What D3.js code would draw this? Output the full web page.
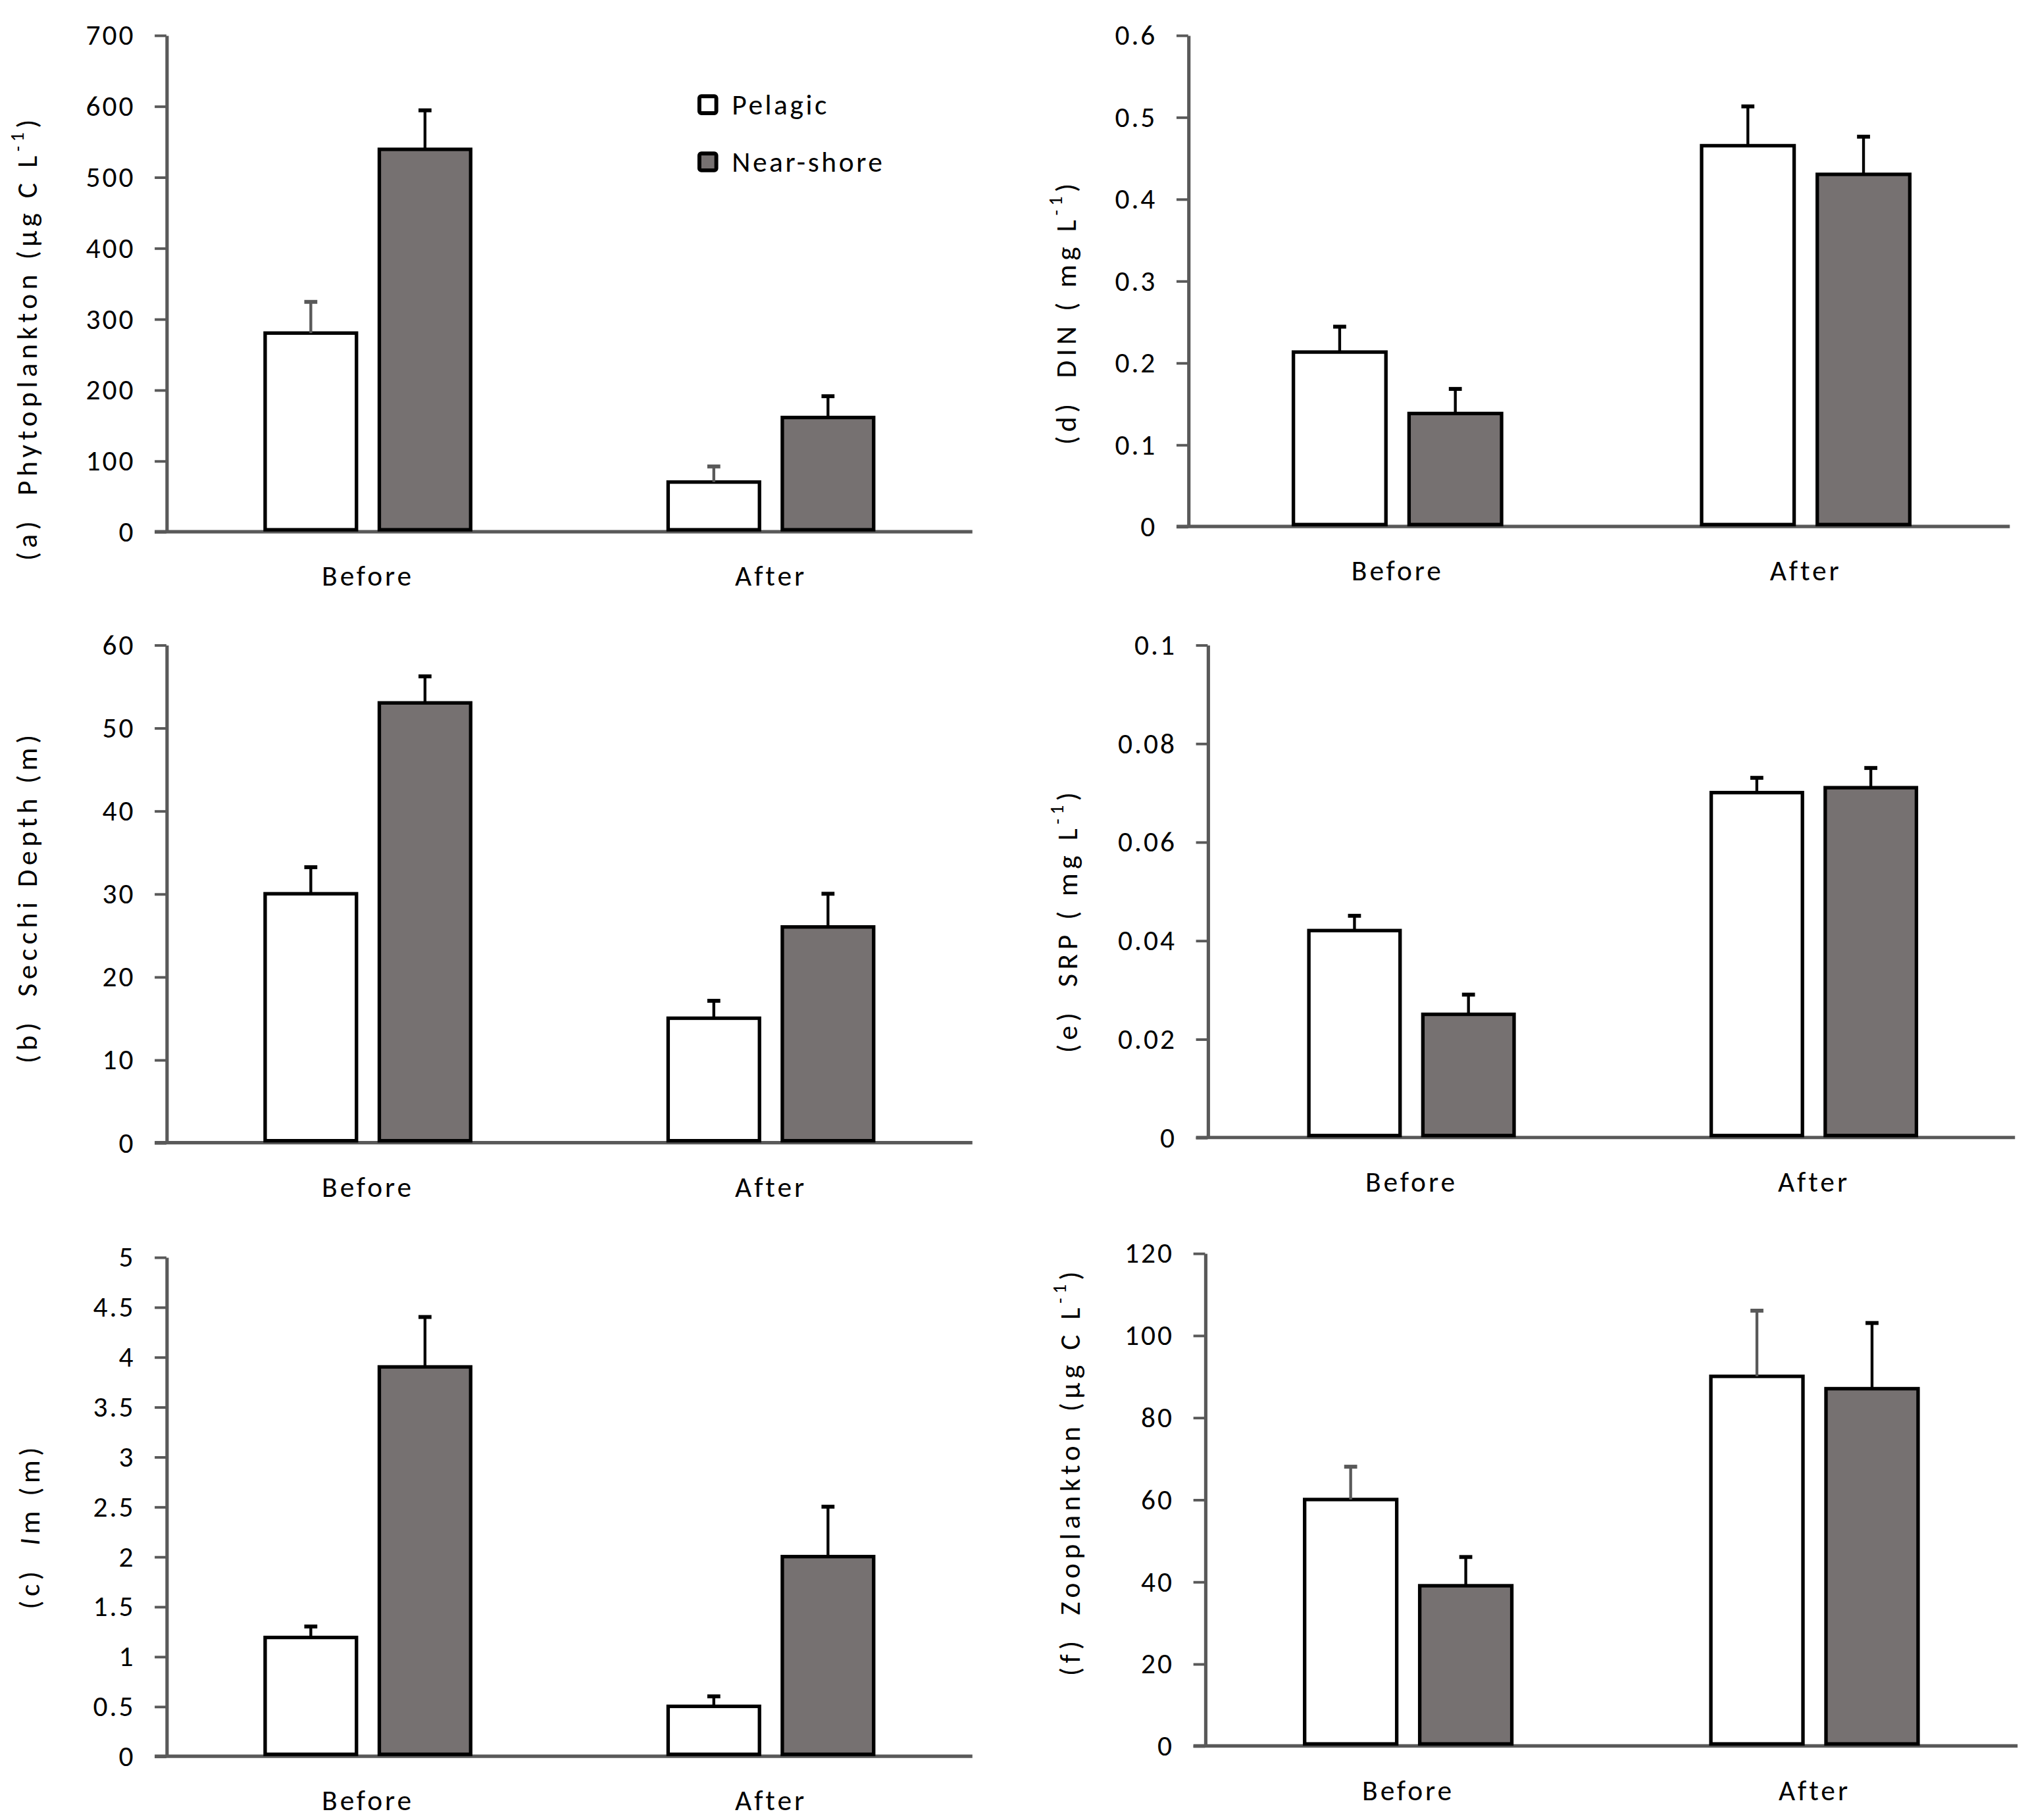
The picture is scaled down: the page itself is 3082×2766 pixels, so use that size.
<!DOCTYPE html>
<html>
<head>
<meta charset="utf-8">
<script src="https://cdn.jsdelivr.net/npm/d3@7"></script>
<style>
  html, body { margin: 0; padding: 0; background: #fff; }
  svg text { font-family: Carlito, Calibri, Lato, "Open Sans", sans-serif; fill: #000; white-space: pre; }
</style>
</head>
<body>
<div id="chart"></div>
<script>
const categories = ["Before", "After"];
const series = ["Pelagic", "Near-shore"];

// (a) Phytoplankton
const phytoPelagic = [280, 70];
const phytoPelagicErr = [44, 22];
const phytoNear = [539, 161];
const phytoNearErr = [55, 30];
const phytoTicks = [0, 100, 200, 300, 400, 500, 600, 700];

// (b) Secchi depth
const secchiPelagic = [30, 15];
const secchiPelagicErr = [3.2, 2.1];
const secchiNear = [53, 26];
const secchiNearErr = [3.2, 4];
const secchiTicks = [0, 10, 20, 30, 40, 50, 60];

// (c) Im
const imPelagic = [1.19, 0.5];
const imPelagicErr = [0.11, 0.1];
const imNear = [3.9, 2.0];
const imNearErr = [0.5, 0.5];
const imTicks = [0, 0.5, 1, 1.5, 2, 2.5, 3, 3.5, 4, 4.5, 5];

// (d) DIN
const dinPelagic = [0.213, 0.465];
const dinPelagicErr = [0.031, 0.048];
const dinNear = [0.138, 0.43];
const dinNearErr = [0.03, 0.046];
const dinTicks = [0, 0.1, 0.2, 0.3, 0.4, 0.5, 0.6];

// (e) SRP
const srpPelagic = [0.042, 0.070];
const srpPelagicErr = [0.003, 0.003];
const srpNear = [0.025, 0.071];
const srpNearErr = [0.004, 0.004];
const srpTicks = [0, 0.02, 0.04, 0.06, 0.08, 0.1];

// (f) Zooplankton
const zooPelagic = [60, 90];
const zooPelagicErr = [8, 16];
const zooNear = [39, 87];
const zooNearErr = [7, 16];
const zooTicks = [0, 20, 40, 60, 80, 100, 120];

const NEAR_FILL = "#767171";
const AXIS_COLOR = "#595959";

const svg = d3.select("#chart")
    .append("svg")
    .attr("width", 3082)
    .attr("height", 2766)
    .attr("viewBox", "0 0 1560 1400");

const panels = [
    { label: "a", title: ["(a)  Phytoplankton (µg C L", "-1", ")"], pel: phytoPelagic, pelErr: phytoPelagicErr, near: phytoNear, nearErr: phytoNearErr, ticks: phytoTicks,
      axisX: 128, yTop: 27, y0: 409, xEnd: 748, bandStart: 128, titleX: 21, titleY: 260, errGray: true, legend: true },
    { label: "b", title: ["(b)  Secchi Depth (m)"], pel: secchiPelagic, pelErr: secchiPelagicErr, near: secchiNear, nearErr: secchiNearErr, ticks: secchiTicks,
      axisX: 128, yTop: 496, y0: 879, xEnd: 748, bandStart: 128, titleX: 21, titleY: 690 },
    { label: "c", title: ["(c)  ", "I", "m (m)"], italic: true, pel: imPelagic, pelErr: imPelagicErr, near: imNear, nearErr: imNearErr, ticks: imTicks,
      axisX: 128, yTop: 967, y0: 1351, xEnd: 748, bandStart: 128, titleX: 23, titleY: 1174 },
    { label: "d", title: ["(d)  DIN ( mg L", "-1", ")"], pel: dinPelagic, pelErr: dinPelagicErr, near: dinNear, nearErr: dinNearErr, ticks: dinTicks,
      axisX: 914, yTop: 27, y0: 405, xEnd: 1546, bandStart: 918, titleX: 820, titleY: 240 },
    { label: "e", title: ["(e)  SRP ( mg L", "-1", ")"], pel: srpPelagic, pelErr: srpPelagicErr, near: srpNear, nearErr: srpNearErr, ticks: srpTicks,
      axisX: 929, yTop: 496, y0: 875, xEnd: 1550, bandStart: 931, titleX: 821, titleY: 708 },
    { label: "f", title: ["(f)  Zooplankton (µg C L", "-1", ")"], pel: zooPelagic, pelErr: zooPelagicErr, near: zooNear, nearErr: zooNearErr, ticks: zooTicks,
      axisX: 927, yTop: 964, y0: 1343, xEnd: 1552, bandStart: 927, titleX: 823, titleY: 1132, errGray: true }
];

panels.forEach(drawPanel);

function drawPanel(p) {
    const g = svg.append("g").attr("class", "panel-" + p.label);

    const y = d3.scaleLinear()
        .domain([0, d3.max(p.ticks)])
        .range([p.y0, p.yTop]);

    const x0 = d3.scaleBand()
        .domain(categories)
        .range([p.bandStart, p.xEnd])
        .padding(0);

    const groupW = x0.bandwidth() * 0.51;
    const x1 = d3.scaleBand()
        .domain(series)
        .range([-groupW / 2, groupW / 2])
        .paddingInner(0.2);

    const rows = categories.map((c, i) => [
        { cat: c, s: series[0], v: p.pel[i], e: p.pelErr[i] },
        { cat: c, s: series[1], v: p.near[i], e: p.nearErr[i] }
    ]).flat();

    // y axis
    const yAxis = g.append("g")
        .attr("transform", `translate(${p.axisX},0)`)
        .call(d3.axisLeft(y)
            .tickValues(p.ticks)
            .tickFormat(d => String(d))
            .tickSize(9)
            .tickSizeOuter(0)
            .tickPadding(15));
    yAxis.select(".domain").attr("stroke", AXIS_COLOR).attr("stroke-width", 2.6);
    yAxis.selectAll(".tick line").attr("stroke", AXIS_COLOR).attr("stroke-width", 2);
    yAxis.selectAll(".tick text")
        .attr("font-size", 22)
        .attr("font-family", null)
        .attr("letter-spacing", 1.5)
        .attr("fill", "#000");

    // x axis
    const xAxis = g.append("g")
        .attr("transform", `translate(0,${p.y0})`)
        .call(d3.axisBottom(x0).tickSize(0).tickPadding(26));
    xAxis.select(".domain").remove();
    xAxis.selectAll(".tick text")
        .attr("font-size", 22)
        .attr("font-family", null)
        .attr("letter-spacing", 2)
        .attr("fill", "#000");
    xAxis.append("line")
        .attr("x1", p.axisX - 9)
        .attr("x2", p.xEnd)
        .attr("y1", 0)
        .attr("y2", 0)
        .attr("stroke", AXIS_COLOR)
        .attr("stroke-width", 2.6);

    // bars
    g.selectAll(".bar")
        .data(rows)
        .enter()
        .append("rect")
        .attr("class", "bar")
        .attr("x", d => x0(d.cat) + x0.bandwidth() / 2 + x1(d.s))
        .attr("y", d => y(d.v))
        .attr("width", x1.bandwidth())
        .attr("height", d => y(0) - y(d.v) - 1.5)
        .attr("fill", d => d.s === series[0] ? "#ffffff" : NEAR_FILL)
        .attr("stroke", "#000")
        .attr("stroke-width", 2.7);

    // error bars (upper only)
    const errColor = d => (p.errGray && d.s === series[0]) ? AXIS_COLOR : "#000";
    const cx = d => x0(d.cat) + x0.bandwidth() / 2 + x1(d.s) + x1.bandwidth() / 2;

    g.selectAll(".err")
        .data(rows)
        .enter()
        .append("line")
        .attr("x1", cx)
        .attr("x2", cx)
        .attr("y1", d => y(d.v))
        .attr("y2", d => y(d.v + d.e))
        .attr("stroke", errColor)
        .attr("stroke-width", 2.2);

    g.selectAll(".cap")
        .data(rows)
        .enter()
        .append("line")
        .attr("x1", d => cx(d) - 5)
        .attr("x2", d => cx(d) + 5)
        .attr("y1", d => y(d.v + d.e))
        .attr("y2", d => y(d.v + d.e))
        .attr("stroke", errColor)
        .attr("stroke-width", 3);

    // y title
    const t = g.append("text")
        .attr("transform", `translate(${p.titleX},${p.titleY}) rotate(-90)`)
        .attr("text-anchor", "middle")
        .attr("dominant-baseline", "central")
        .attr("letter-spacing", 3.3)
        .attr("font-size", 22);
    if (p.italic) {
        t.append("tspan").text(p.title[0]);
        t.append("tspan").attr("font-style", "italic").text(p.title[1]);
        t.append("tspan").text(p.title[2]);
    } else {
        t.append("tspan").text(p.title[0]);
        if (p.title.length > 1) {
            t.append("tspan").attr("font-size", 14).attr("dy", -8).text(p.title[1]);
            t.append("tspan").attr("dy", 8).text(p.title[2]);
        }
    }

    if (p.legend) {
        const leg = g.append("g").attr("class", "legend");
        const items = leg.selectAll("g")
            .data(series)
            .enter()
            .append("g")
            .attr("transform", (d, i) => `translate(538,${74 + i * 44})`);
        items.append("rect")
            .attr("width", 13)
            .attr("height", 13)
            .attr("rx", 1.5)
            .attr("fill", (d, i) => i === 0 ? "#ffffff" : NEAR_FILL)
            .attr("stroke", "#000")
            .attr("stroke-width", 3);
        items.append("text")
            .attr("x", 25)
            .attr("y", 14)
            .attr("font-size", 22)
            .attr("letter-spacing", 1.8)
            .text(d => d);
    }
}
</script>
</body>
</html>
